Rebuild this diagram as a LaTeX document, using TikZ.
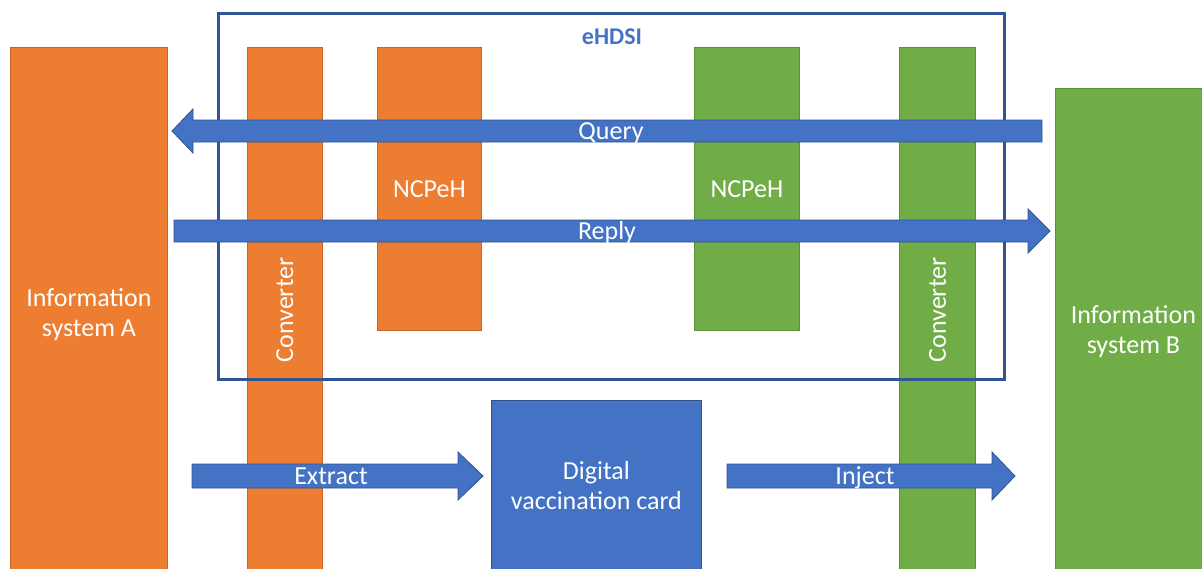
\documentclass[tikz,border=0pt]{standalone}
\usepackage{fontspec}
\setmainfont{Carlito}

\begin{document}
\begin{tikzpicture}[x=1pt,y=-1pt,
    orangebox/.style={fill=ehOrange, draw=ehOrangeDark, line width=0.8pt, anchor=north west, inner sep=0pt},
    greenbox/.style={fill=ehGreen, draw=ehGreenDark, line width=0.8pt, anchor=north west, inner sep=0pt},
    bluebox/.style={fill=ehBlue, draw=ehBlueDark, line width=0.8pt, anchor=north west, inner sep=0pt},
    boxtext/.style={text=white, font=\fontsize{26pt}{30pt}\selectfont, align=center, inner sep=0pt},
    blockarrow/.style={fill=ehBlue, draw=ehBlueDark, line width=0.8pt}]
    \definecolor{ehOrange}{RGB}{237,125,49}
    \definecolor{ehOrangeDark}{RGB}{200,100,40}
    \definecolor{ehGreen}{RGB}{112,173,71}
    \definecolor{ehGreenDark}{RGB}{90,145,55}
    \definecolor{ehBlue}{RGB}{68,114,196}
    \definecolor{ehBlueDark}{RGB}{47,82,143}
    \definecolor{ehFrame}{RGB}{47,85,151}
    \useasboundingbox (0,0) rectangle (1202,568);
    % systems and gateways (cut off at the lower edge)
    \node[orangebox, minimum width=157pt, minimum height=531pt] (infoA) at (10,47) {};
    \node[boxtext] at ([yshift=-2pt]infoA.center) {Information\\system A};
    \node[orangebox, minimum width=75pt, minimum height=531pt] (convA) at (247,47) {};
    \node[boxtext, rotate=90] at ([yshift=3pt]convA.center) {Converter};
    \node[orangebox, minimum width=104pt, minimum height=283pt] (ncpA) at (377,47) {};
    \node[boxtext] at (ncpA.center) {NCPeH};
    \node[greenbox, minimum width=105pt, minimum height=283pt] (ncpB) at (694,47) {};
    \node[boxtext] at (ncpB.center) {NCPeH};
    \node[greenbox, minimum width=76pt, minimum height=531pt] (convB) at (899,47) {};
    \node[boxtext, rotate=90] at ([yshift=3pt]convB.center) {Converter};
    \node[greenbox, minimum width=150pt, minimum height=490pt] (infoB) at (1055,88) {};
    \node[boxtext] at ([xshift=3pt,yshift=2pt]infoB.center) {Information\\system B};
    \node[bluebox, minimum width=210pt, minimum height=178pt] (card) at (491,400) {};
    \node[boxtext] at ([yshift=4pt]card.center) {Digital\\vaccination card};
    % eHDSI frame
    \draw[line width=3pt, ehFrame] (218,13) rectangle (1004,379);
    \node[text=ehBlue, font=\fontsize{24pt}{24pt}\selectfont\bfseries] (ehdsi) at (612,37) {eHDSI};
    % block arrows
    \filldraw[blockarrow] (1042,120) -- (193,120) -- (193,109) -- (172,131) -- (193,153) -- (193,142) -- (1042,142) -- cycle;
    \node[boxtext] (query) at (611,133) {Query};
    \filldraw[blockarrow] (174,220) -- (1028,220) -- (1028,209) -- (1050,231) -- (1028,253) -- (1028,242) -- (174,242) -- cycle;
    \node[boxtext] (reply) at (607,233) {Reply};
    \filldraw[blockarrow] (192,464) -- (458,464) -- (458,452) -- (483,476) -- (458,500) -- (458,488) -- (192,488) -- cycle;
    \node[boxtext] (extract) at (331,476) {Extract};
    \filldraw[blockarrow] (727,464) -- (992,464) -- (992,452) -- (1015,476) -- (992,500) -- (992,488) -- (727,488) -- cycle;
    \node[boxtext] (inject) at (865,478) {Inject};
\end{tikzpicture}
\end{document}
